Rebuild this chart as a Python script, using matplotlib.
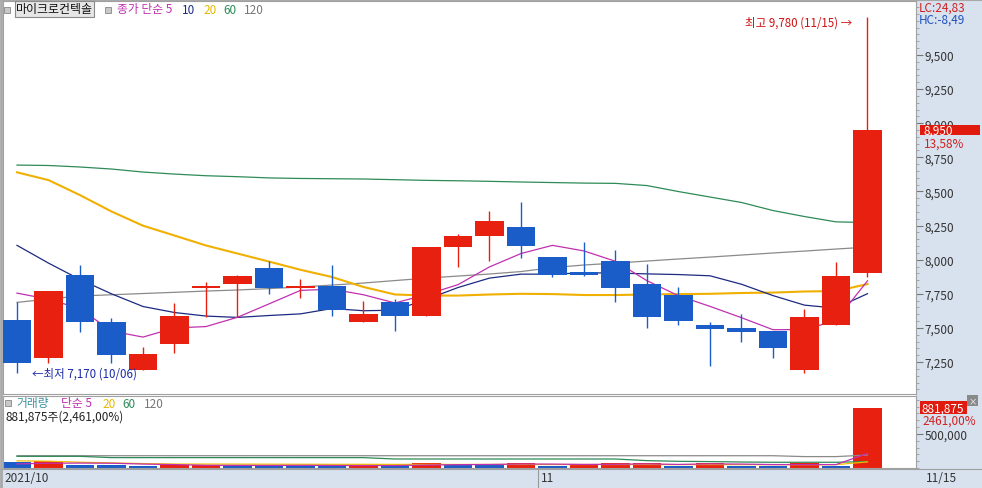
import matplotlib
matplotlib.use("Agg")
import matplotlib.pyplot as plt
from matplotlib.patches import Rectangle
from matplotlib.ticker import MultipleLocator, FixedLocator, FuncFormatter
import matplotlib.transforms as mtrans

# 마이크로컨텍솔 일봉 (2021/10/06 ~ 2021/11/15)
dates = ["10/06", "10/07", "10/08", "10/12", "10/13", "10/14", "10/15",
         "10/18", "10/19", "10/20", "10/21", "10/22", "10/25", "10/26",
         "10/27", "10/28", "10/29", "11/01", "11/02", "11/03", "11/04",
         "11/05", "11/08", "11/09", "11/10", "11/11", "11/12", "11/15"]
opens = [7560, 7280, 7890, 7540, 7190, 7380, 7790, 7820, 7940, 7790, 7810, 7540, 7690, 7590,
         8090, 8170, 8240, 8020, 7910, 7990, 7820, 7740, 7520, 7500, 7480, 7190, 7520, 7900]
highs = [7690, 7770, 7960, 7570, 7360, 7680, 7840, 7890, 7990, 7860, 7960, 7700, 7710, 8090,
         8190, 8360, 8420, 8020, 8130, 8070, 7970, 7800, 7540, 7600, 7480, 7640, 7980, 9780]
lows = [7170, 7240, 7470, 7240, 7190, 7320, 7580, 7580, 7750, 7720, 7590, 7540, 7480, 7590,
        7950, 7990, 8010, 7870, 7880, 7690, 7500, 7520, 7220, 7400, 7280, 7170, 7520, 7870]
closes = [7240, 7770, 7540, 7300, 7310, 7590, 7810, 7880, 7790, 7810, 7630, 7600, 7590, 8090,
          8170, 8280, 8100, 7890, 7890, 7790, 7580, 7550, 7490, 7470, 7350, 7580, 7880, 8950]

# 종가 단순 이동평균 (화면에서 읽은 값)
ma5 = [7755, 7711, 7641, 7477, 7433, 7500, 7510, 7578, 7676, 7775, 7784, 7743, 7683, 7744,
       7817, 7947, 8045, 8105, 8064, 7988, 7846, 7736, 7658, 7575, 7487, 7488, 7554, 7845]
ma10 = [8105, 7975, 7855, 7750, 7657, 7613, 7587, 7577, 7591, 7603, 7642, 7626, 7630, 7709,
        7796, 7865, 7894, 7894, 7904, 7902, 7896, 7891, 7882, 7820, 7737, 7667, 7645, 7751]
ma20 = [8640, 8583, 8473, 8353, 8249, 8177, 8104, 8045, 7986, 7926, 7873, 7800, 7745, 7737,
        7737, 7745, 7750, 7748, 7741, 7741, 7745, 7748, 7750, 7756, 7759, 7767, 7770, 7821]
ma60 = [8693, 8690, 8679, 8664, 8642, 8627, 8615, 8608, 8599, 8595, 8593, 8591, 8586, 8581,
        8578, 8574, 8569, 8565, 8561, 8559, 8543, 8499, 8459, 8419, 8360, 8316, 8277, 8272]
ma120 = [7687, 7712, 7734, 7743, 7752, 7761, 7770, 7778, 7788, 7800, 7814, 7829, 7847, 7865,
         7880, 7895, 7913, 7942, 7961, 7975, 7990, 8005, 8019, 8034, 8049, 8063, 8078, 8092]

# 거래량
volumes = [83000, 98000, 42000, 40000, 26000, 44000, 46000, 36000, 35000, 34500, 34000, 41000,
           35000, 74000, 60000, 49000, 73000, 30000, 49000, 71000, 75000, 36000, 69000, 36000,
           35000, 74000, 35834, 881875]
vma5 = [60000, 70000, 72000, 70000, 58000, 50000, 39600, 38400, 37400, 39100, 37100, 36100,
        35900, 43700, 48800, 51800, 58200, 57200, 52200, 54400, 59600, 52200, 60000, 57400,
        50200, 50000, 50000, 212500]
vma20 = [105000, 100000, 85000, 75000, 65000, 58000, 58000, 57000, 56000, 55000, 54000, 54000,
         53000, 53000, 52000, 52000, 52000, 51000, 51000, 51000, 51000, 50000, 50000, 50000,
         49000, 49000, 49000, 90000]
vma60 = [171000, 171000, 171000, 152000, 152000, 152000, 152000, 152000, 152000, 152000, 152000,
         152000, 132000, 132000, 132000, 132000, 132000, 132000, 132000, 132000, 108000, 98000,
         94000, 88000, 84000, 84000, 84000, 94000]
vma120 = [180000] * 25 + [167000, 167000, 190000]

RED = "#e8200f"
BLUE = "#1a5cc8"
BG = "#d8e2ef"
W, H = 982, 489

plt.rcParams["font.family"] = ["Noto Sans CJK KR", "DejaVu Sans"]

fig = plt.figure(figsize=(W / 100, H / 100), dpi=100)
fig.patch.set_facecolor("white")


def box(x0, y0, x1, y1):
    return [x0 / W, 1 - y1 / H, (x1 - x0) / W, (y1 - y0) / H]


def ftext(x, y, s, **kw):
    kw.setdefault("va", "center")
    kw.setdefault("fontsize", 8.5)
    return fig.text(x / W, 1 - y / H, s, **kw)


# 배경 (오른쪽 축, 아래 날짜 영역)
fig.patches.append(Rectangle((916 / W, 0), 66 / W, 1, transform=fig.transFigure,
                             facecolor=BG, edgecolor="none", zorder=-5))
fig.patches.append(Rectangle((0, 0), 1, 19 / H, transform=fig.transFigure,
                             facecolor=BG, edgecolor="none", zorder=-5))

x = list(range(len(dates)))
xlim = (-0.444, 28.54)

# ---- 가격 차트
ax = fig.add_axes(box(3, 2, 916, 395))
ax.set_xlim(*xlim)
ax.set_ylim(7016, 9895)

ax.plot(x, ma120, color="#8a8a8a", lw=0.9, zorder=1)
ax.plot(x, ma60, color="#2e8b57", lw=0.9, zorder=1)
ax.plot(x, ma20, color="#f0b000", lw=1.5, zorder=1)
ax.plot(x, ma10, color="#1c2a80", lw=0.9, zorder=1)
ax.plot(x, ma5, color="#c030b0", lw=0.9, zorder=1)

cols = [RED if c >= o else BLUE for o, c in zip(opens, closes)]
ax.vlines(x, lows, highs, colors=cols, lw=1.0, zorder=2)
bottoms = [min(o, c) for o, c in zip(opens, closes)]
heights = [max(abs(c - o), 8) for o, c in zip(opens, closes)]
ax.bar(x, heights, bottom=bottoms, width=0.9, color=cols, lw=0, zorder=3)

ax.yaxis.tick_right()
ax.yaxis.set_major_locator(FixedLocator([7250, 7500, 7750, 8000, 8250, 8500, 8750, 9000, 9250, 9500]))
ax.yaxis.set_minor_locator(MultipleLocator(50))
ax.yaxis.set_major_formatter(FuncFormatter(lambda v, p: f"{v:,.0f}"))
ax.tick_params(axis="y", which="major", length=5, width=0.8, color="#777", labelsize=8.5,
               labelcolor="#333", pad=1)
ax.tick_params(axis="y", which="minor", length=2.5, width=0.6, color="#999")
ax.set_xticks([])
for s in ax.spines.values():
    s.set_color("#a0a0a0")

# 최고 / 최저 표시
ih = highs.index(max(highs))
ax.annotate(f"최고 {highs[ih]:,} ({dates[ih]}) →", xy=(ih, highs[ih]), xytext=(-11, -4),
            textcoords="offset points", ha="right", va="center", color="#d01010", fontsize=8.3)
il = lows.index(min(lows))
ax.annotate(f"←최저 {lows[il]:,} ({dates[il]})", xy=(il, lows[il]), xytext=(11, 0),
            textcoords="offset points", ha="left", va="center", color="#1a2aa8", fontsize=8.3)

# ---- 거래량 차트
ax2 = fig.add_axes(box(3, 397, 916, 469))
ax2.set_xlim(*xlim)
ax2.set_ylim(0, 1055000)
vcols = [BLUE] + [RED if volumes[i] >= volumes[i - 1] else BLUE for i in range(1, len(volumes))]
ax2.bar(x, volumes, width=0.9, color=vcols, lw=0, zorder=2)
ax2.plot(x, vma120, color="#8a8a8a", lw=0.9, zorder=3)
ax2.plot(x, vma60, color="#2e8b57", lw=0.9, zorder=3)
ax2.plot(x, vma20, color="#f0c000", lw=0.9, zorder=3)
ax2.plot(x, vma5, color="#c030b0", lw=0.9, zorder=3)
ax2.yaxis.tick_right()
ax2.yaxis.set_major_locator(FixedLocator([500000]))
ax2.yaxis.set_minor_locator(MultipleLocator(100000))
ax2.yaxis.set_major_formatter(FuncFormatter(lambda v, p: f"{v:,.0f}"))
ax2.tick_params(axis="y", which="major", length=5, width=0.8, color="#777", labelsize=8.5,
                labelcolor="#333", pad=1)
ax2.tick_params(axis="y", which="minor", length=2.5, width=0.6, color="#999")
ax2.set_xticks([])
for s in ax2.spines.values():
    s.set_color("#a0a0a0")

# ---- 범례 (가격)
fig.patches.append(Rectangle((4 / W, 1 - 14 / H), 6 / W, 6 / H, transform=fig.transFigure,
                             facecolor="#c8c8c8", edgecolor="#888", lw=0.6))
ftext(16, 10, "마이크로컨텍솔", color="#111", fontsize=8.6,
      bbox=dict(boxstyle="square,pad=0.12", facecolor="#e6e6e6", edgecolor="#8a8a8a", lw=0.8))
fig.patches.append(Rectangle((105 / W, 1 - 14 / H), 6 / W, 6 / H, transform=fig.transFigure,
                             facecolor="#c8c8c8", edgecolor="#888", lw=0.6))
ftext(117, 10, "종가 단순 5", color="#c030b0")
ftext(182, 10, "10", color="#1c2a80")
ftext(203, 10, "20", color="#e8b800")
ftext(223, 10, "60", color="#2e8b57")
ftext(244, 10, "120", color="#777")

# ---- 범례 (거래량)
fig.patches.append(Rectangle((5 / W, 1 - 407 / H), 6 / W, 6 / H, transform=fig.transFigure,
                             facecolor="#c8c8c8", edgecolor="#888", lw=0.6))
ftext(16, 404, "거래량", color="#3a8fa0")
ftext(61, 404, "단순 5", color="#c030b0")
ftext(102, 404, "20", color="#e8b800")
ftext(122, 404, "60", color="#2e8b57")
ftext(144, 404, "120", color="#777")
pct = volumes[-1] / volumes[-2] * 100
ftext(6, 417, f"{volumes[-1]:,}주({pct:,.2f}%)".replace(".", ","), color="#222")

# ---- 오른쪽 정보
ftext(919, 8, "LC:24,83", color="#d02020")
ftext(919, 20, "HC:-8,49", color="#2050c0")

# 현재가 태그
tp = mtrans.blended_transform_factory(fig.transFigure, ax.transData)
fig.patches.append(Rectangle((920 / W, closes[-1] - 40), 60 / W, 80, transform=tp,
                             facecolor="#e01a0c", edgecolor="none", zorder=4))
fig.text(923 / W, closes[-1], f"{closes[-1]:,}", transform=tp, color="white", fontsize=8.5,
         va="center", zorder=5)
chg = (closes[-1] / closes[-2] - 1) * 100
ftext(924, 144, f"{chg:.2f}%".replace(".", ","), color="#d02020")

# 거래량 태그
tv = mtrans.blended_transform_factory(fig.transFigure, ax2.transData)
fig.patches.append(Rectangle((920 / W, volumes[-1] - 95000), 47 / W, 190000, transform=tv,
                             facecolor="#e01a0c", edgecolor="none", zorder=4))
fig.text(922 / W, volumes[-1], f"{volumes[-1]:,}", transform=tv, color="white", fontsize=8.5,
         va="center", zorder=5)
ftext(972.5, 401.5, "×", color="white", fontsize=6, ha="center",
      bbox=dict(boxstyle="square,pad=0.1", facecolor="#8a8a8a", edgecolor="none"))
ftext(922, 421, f"{pct:.2f}%".replace(".", ","), color="#d02020")

# ---- 날짜 영역
ftext(4, 479, "2021/10", color="#333")
ftext(541, 479, "11", color="#333")
fig.add_artist(plt.Line2D([538 / W, 538 / W], [0, 19 / H], color="#999", lw=0.8))
ftext(926, 479, "11/15", color="#333")
fig.add_artist(plt.Line2D([0, 1], [19 / H, 19 / H], color="#a0a0a0", lw=0.8))
fig.add_artist(plt.Line2D([0.5 / W, 0.5 / W], [0, 1], color="#a8a8a8", lw=2))
fig.add_artist(plt.Line2D([0, 1], [1 - 0.5 / H, 1 - 0.5 / H], color="#a8a8a8", lw=1.5))

fig.savefig("out.png", dpi=100)
